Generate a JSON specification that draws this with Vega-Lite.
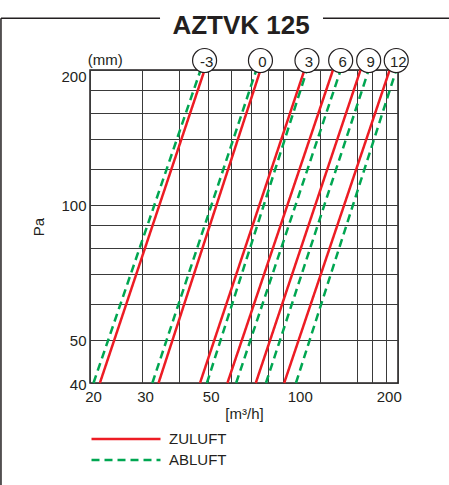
{
  "$schema": "https://vega.github.io/schema/vega-lite/v6.json",
  "width": 308,
  "height": 313,
  "autosize": {"type": "none"},
  "padding": {"left": 90, "top": 70, "right": 51, "bottom": 102},
  "background": "white",
  "title": {
    "text": "AZTVK 125",
    "font": "Liberation Sans",
    "fontSize": 26,
    "fontWeight": "bold",
    "color": "#231f20",
    "anchor": "middle",
    "frame": "group",
    "baseline": "alphabetic",
    "offset": -15,
    "dx": -3,
    "dy": 28
  },
  "config": {
    "view": {"stroke": "#231f20", "strokeWidth": 1.5},
    "axis": {
      "labelFont": "Liberation Sans",
      "labelFontSize": 15,
      "labelColor": "#231f20",
      "titleFont": "Liberation Sans",
      "titleFontSize": 15,
      "titleFontWeight": "normal",
      "titleColor": "#231f20",
      "domain": false,
      "ticks": false,
      "tickSize": 0,
      "gridColor": "#3a3a3a",
      "gridWidth": 1,
      "labelFlush": false,
      "labelOverlap": false,
      "labelBound": false
    },
    "legend": {
      "labelFont": "Liberation Sans",
      "labelFontSize": 15,
      "labelColor": "#231f20"
    }
  },
  "data": {
    "values": [
      {"type": "ZULUFT", "opening": -3, "q": 21.6, "p": 40},
      {"type": "ZULUFT", "opening": -3, "q": 48.8, "p": 200},
      {"type": "ABLUFT", "opening": -3, "q": 20.55, "p": 40},
      {"type": "ABLUFT", "opening": -3, "q": 47.3, "p": 200},
      {"type": "ZULUFT", "opening": 0, "q": 34.1, "p": 40},
      {"type": "ZULUFT", "opening": 0, "q": 75.4, "p": 200},
      {"type": "ABLUFT", "opening": 0, "q": 32.5, "p": 40},
      {"type": "ABLUFT", "opening": 0, "q": 73.0, "p": 200},
      {"type": "ZULUFT", "opening": 3, "q": 47.1, "p": 40},
      {"type": "ZULUFT", "opening": 3, "q": 106.2, "p": 200},
      {"type": "ABLUFT", "opening": 3, "q": 49.7, "p": 40},
      {"type": "ABLUFT", "opening": 3, "q": 108.3, "p": 200},
      {"type": "ZULUFT", "opening": 6, "q": 58.3, "p": 40},
      {"type": "ZULUFT", "opening": 6, "q": 132.6, "p": 200},
      {"type": "ABLUFT", "opening": 6, "q": 62.4, "p": 40},
      {"type": "ABLUFT", "opening": 6, "q": 140.8, "p": 200},
      {"type": "ZULUFT", "opening": 9, "q": 72.7, "p": 40},
      {"type": "ZULUFT", "opening": 9, "q": 164.3, "p": 200},
      {"type": "ABLUFT", "opening": 9, "q": 78.7, "p": 40},
      {"type": "ABLUFT", "opening": 9, "q": 175.1, "p": 200},
      {"type": "ZULUFT", "opening": 12, "q": 90.7, "p": 40},
      {"type": "ZULUFT", "opening": 12, "q": 206.2, "p": 200},
      {"type": "ABLUFT", "opening": 12, "q": 99.4, "p": 40},
      {"type": "ABLUFT", "opening": 12, "q": 217.0, "p": 200}
    ]
  },
  "layer": [
    {
      "mark": {"type": "line", "strokeWidth": 2.5},
      "encoding": {
        "x": {
          "field": "q",
          "type": "quantitative",
          "title": "[m³/h]",
          "scale": {"type": "log", "domain": [20, 220], "nice": false, "zero": false},
          "axis": {
            "title": "[m³/h]",
            "values": [20, 30, 40, 50, 60, 70, 80, 90, 100, 120, 160, 180, 200, 220],
            "labelExpr": "indexof([20, 30, 50, 100, 200], datum.value) >= 0 ? '' + datum.value : ''",
            "gridOpacity": {"condition": {"test": "datum.value === 100", "value": 0}, "value": 1},
            "labelPadding": 6,
            "labelOffset": 3,
            "titlePadding": 2
          }
        },
        "y": {
          "field": "p",
          "type": "quantitative",
          "title": "Pa",
          "scale": {"type": "log", "domain": [40, 200], "nice": false, "zero": false},
          "axis": {
            "title": "Pa",
            "values": [40, 50, 60, 70, 80, 90, 100, 120, 140, 160, 180, 200],
            "labelExpr": "indexof([40, 50, 100, 200], datum.value) >= 0 ? '' + datum.value : ''",
            "labelOffset": {"condition": {"test": "datum.value === 200", "value": 6}, "value": 1},
            "labelPadding": 4,
            "titlePadding": 14
          }
        },
        "color": {
          "field": "type",
          "type": "nominal",
          "scale": {"domain": ["ZULUFT", "ABLUFT"], "range": ["#ed1c24", "#00a651"]},
          "legend": {
            "title": null,
            "orient": "none",
            "legendX": 0,
            "legendY": 361,
            "symbolType": "stroke",
            "symbolSize": 4761,
            "symbolStrokeWidth": 2.5,
            "clipHeight": 16,
            "rowPadding": 5,
            "labelOffset": 7
          }
        },
        "strokeDash": {
          "field": "type",
          "type": "nominal",
          "scale": {"domain": ["ZULUFT", "ABLUFT"], "range": [[1, 0], [8, 5]]},
          "legend": {
            "title": null,
            "orient": "none",
            "legendX": 0,
            "legendY": 361,
            "symbolType": "stroke",
            "symbolSize": 4761,
            "symbolStrokeWidth": 2.5,
            "clipHeight": 16,
            "rowPadding": 5,
            "labelOffset": 7
          }
        },
        "detail": {"field": "opening", "type": "quantitative"},
        "order": {"field": "p", "type": "quantitative"}
      }
    },
    {
      "transform": [
        {"filter": "datum.p === 200"},
        {"aggregate": [{"op": "max", "field": "q", "as": "qtop"}], "groupby": ["opening"]}
      ],
      "mark": {"type": "point", "shape": "circle", "size": 576, "filled": true, "fill": "white", "stroke": "#231f20", "strokeWidth": 1.2, "opacity": 1, "dx": 2},
      "encoding": {
        "x": {"field": "qtop", "type": "quantitative", "title": "[m³/h]"},
        "y": {"datum": 210, "title": "Pa"}
      }
    },
    {
      "transform": [
        {"filter": "datum.p === 200"},
        {"aggregate": [{"op": "max", "field": "q", "as": "qtop"}], "groupby": ["opening"]}
      ],
      "mark": {"type": "text", "font": "Liberation Sans", "fontSize": 15, "color": "#231f20", "baseline": "middle", "align": "center", "dy": 1, "dx": 2},
      "encoding": {
        "x": {"field": "qtop", "type": "quantitative", "title": "[m³/h]"},
        "y": {"datum": 210, "title": "Pa"},
        "text": {"field": "opening", "type": "nominal"}
      }
    },
    {
      "data": {"values": [{"label": "(mm)"}]},
      "mark": {"type": "text", "font": "Liberation Sans", "fontSize": 15, "color": "#231f20", "baseline": "middle", "align": "center"},
      "encoding": {
        "x": {"datum": 22.5, "title": "[m³/h]"},
        "y": {"datum": 211, "title": "Pa"},
        "text": {"field": "label", "type": "nominal"}
      }
    },
    {
      "data": {"values": [{"part": "left"}]},
      "mark": {"type": "rule", "color": "#231f20", "strokeWidth": 1.5},
      "encoding": {
        "x": {"datum": 10, "title": "[m³/h]"},
        "y": {"datum": 261, "title": "Pa"},
        "y2": {"datum": 22}
      }
    },
    {
      "data": {"values": [{"part": "topleft"}]},
      "mark": {"type": "rule", "color": "#231f20", "strokeWidth": 1.5},
      "encoding": {
        "x": {"datum": 10, "title": "[m³/h]"},
        "x2": {"datum": 34.5},
        "y": {"datum": 261, "title": "Pa"}
      }
    },
    {
      "data": {"values": [{"part": "topright"}]},
      "mark": {"type": "rule", "color": "#231f20", "strokeWidth": 1.5},
      "encoding": {
        "x": {"datum": 122.7, "title": "[m³/h]"},
        "x2": {"datum": 360},
        "y": {"datum": 261, "title": "Pa"}
      }
    }
  ]
}
